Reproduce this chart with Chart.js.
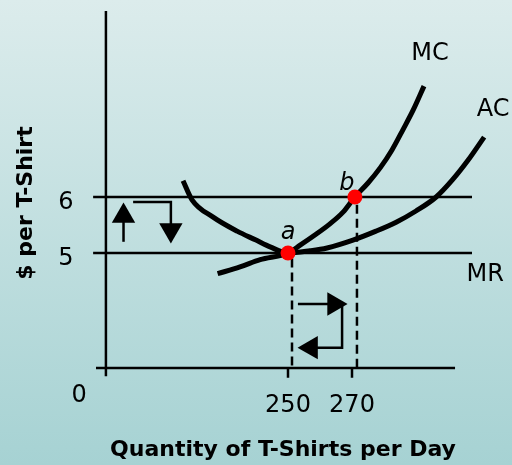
<!DOCTYPE html>
<html lang="en">
<head>
  <meta charset="UTF-8" />
  <title>Perfect competition: MC, AC and MR</title>
  <script src="https://cdn.jsdelivr.net/npm/chart.js"></script>
  <style>
    html, body { margin: 0; padding: 0; }
    body { width: 512px; height: 465px; background: linear-gradient(#dcecec, #a6d2d3); }
    canvas { display: block; }
  </style>
</head>
<body>
  <canvas id="costChart" width="512" height="465"></canvas>

  <script>
    // quantities (T-shirts per day) and cost per T-shirt
    const mcQty  = [228, 235, 241.3, 250, 253.8, 258.4, 263.1, 267.2, 270.9, 275, 278.8, 282.5, 285.9, 289.1, 292.5];
    const mcCost = [4.63, 4.75, 4.88, 5.0, 5.14, 5.32, 5.52, 5.73, 6.0, 6.25, 6.52, 6.84, 7.2, 7.55, 7.98];
    const acQty  = [217.2, 220, 226.6, 234.1, 240, 244.4, 250, 256.9, 262.2, 270.3, 277.5, 283.8, 290, 296.3, 301.3, 306.3, 311.3];
    const acCost = [6.29, 5.95, 5.64, 5.39, 5.23, 5.11, 5.0, 5.04, 5.09, 5.23, 5.39, 5.55, 5.75, 6.0, 6.3, 6.66, 7.07];
    const prices = [6, 5];          // horizontal price lines, the lower one is MR
    const qtyTicks = [250, 270];
    const qtyTickLabels = ['250', '270'];
    const priceTickLabels = ['6', '5'];
    const pointNames = ['a', 'b'];
    const pointQty = [250, 270.9];
    const pointCost = [5, 6];

    // layout in data units (where things sit in the picture)
    const xMin = 160, xMax = 320, yMin = 1.214, yMax = 9.518;
    const originX = 193.1, originY = 2.946;
    const lineFrom = 189.1, lineTo = 307.5;
    const dashQty = [251.25, 271.55];

    const seg = (x1, y1, x2, y2) => [{ x: x1, y: y1 }, { x: x2, y: y2 }];
    const black = '#000';

    const lineSet = (data, width, extra) => Object.assign({
      data, borderColor: black, borderWidth: width, pointRadius: 0, fill: false, tension: 0
    }, extra || {});

    const arrowHead = (x, y, rot) => ({
      data: [{ x, y }], showLine: false, pointStyle: 'triangle', rotation: rot,
      pointRadius: 13.5, pointBackgroundColor: black, pointBorderColor: black, pointBorderWidth: 0
    });

    const datasets = [
      {
        data: pointQty.map((q, i) => ({ x: q, y: pointCost[i] })),
        showLine: false, pointRadius: 7.5, pointBackgroundColor: '#ff0000', pointBorderWidth: 0
      },
      lineSet(mcQty.map((q, i) => ({ x: q, y: mcCost[i] })), 5, { cubicInterpolationMode: 'monotone' }),
      lineSet(acQty.map((q, i) => ({ x: q, y: acCost[i] })), 5, { cubicInterpolationMode: 'monotone' }),
      lineSet(seg(lineFrom, prices[0], lineTo, prices[0]), 2.5),
      lineSet(seg(lineFrom, prices[1], lineTo, prices[1]), 2.5),
      lineSet(seg(dashQty[0], 4.9, dashQty[0], originY), 2.5, { borderDash: [9, 5] }),
      lineSet(seg(dashQty[1], 5.86, dashQty[1], originY), 2.5, { borderDash: [9, 5] }),
      // axes
      lineSet(seg(originX, 9.32, originX, 2.8), 2.5),
      lineSet(seg(190, originY, 302.2, originY), 2.5),
      lineSet(seg(qtyTicks[0], originY, qtyTicks[0], 2.77), 2.5),
      lineSet(seg(qtyTicks[1], originY, qtyTicks[1], 2.77), 2.5),
      // arrows, price side
      lineSet(seg(198.6, 5.2, 198.6, 5.66), 2.5),
      arrowHead(198.6, 5.66, 0),
      lineSet([{ x: 201.6, y: 5.91 }, { x: 213.4, y: 5.91 }, { x: 213.4, y: 5.41 }], 2.5),
      arrowHead(213.4, 5.41, 180),
      // arrows, quantity side
      lineSet(seg(253.1, 4.09, 264.4, 4.09), 2.5),
      arrowHead(264.4, 4.09, 90),
      lineSet([{ x: 266.9, y: 4.07 }, { x: 266.9, y: 3.31 }, { x: 257.2, y: 3.31 }], 2.5),
      arrowHead(257.2, 3.31, 270)
    ];

    const textPlugin = {
      id: 'chartText',
      afterDatasetsDraw(chart) {
        const { ctx, scales: { x, y } } = chart;
        const px = v => x.getPixelForValue(v);
        const py = v => y.getPixelForValue(v);
        ctx.save();
        ctx.fillStyle = black;
        ctx.textAlign = 'center';
        ctx.textBaseline = 'middle';

        ctx.font = '24px "DejaVu Sans"';
        ctx.fillText('MC', px(294.4), py(8.55));
        ctx.fillText('AC', px(314.1), py(7.55));
        ctx.fillText('MR', px(311.6), py(4.61));
        priceTickLabels.forEach((t, i) => ctx.fillText(t, px(180.6), py(prices[i]) + 6));
        qtyTickLabels.forEach((t, i) => ctx.fillText(t, px(qtyTicks[i]), py(2.27)));
        ctx.fillText('0', px(184.7), py(2.45));

        ctx.font = 'italic 24px "DejaVu Sans"';
        ctx.fillText(pointNames[0], px(250), py(5.37));
        ctx.fillText(pointNames[1], px(268.4), py(6.23));

        ctx.font = 'bold 22px "DejaVu Sans"';
        ctx.fillText('Quantity of T-Shirts per Day', 283, py(1.48));
        ctx.translate(26, 203);
        ctx.rotate(-Math.PI / 2);
        ctx.fillText('$ per T-Shirt', 0, 0);
        ctx.restore();
      }
    };

    new Chart(document.getElementById('costChart'), {
      type: 'line',
      data: { datasets },
      options: {
        responsive: false,
        animation: false,
        layout: { padding: 0, autoPadding: false },
        plugins: { legend: { display: false }, tooltip: { enabled: false } },
        scales: {
          x: { type: 'linear', min: xMin, max: xMax, display: false },
          y: { type: 'linear', min: yMin, max: yMax, display: false }
        }
      },
      plugins: [textPlugin]
    });
  </script>
</body>
</html>
